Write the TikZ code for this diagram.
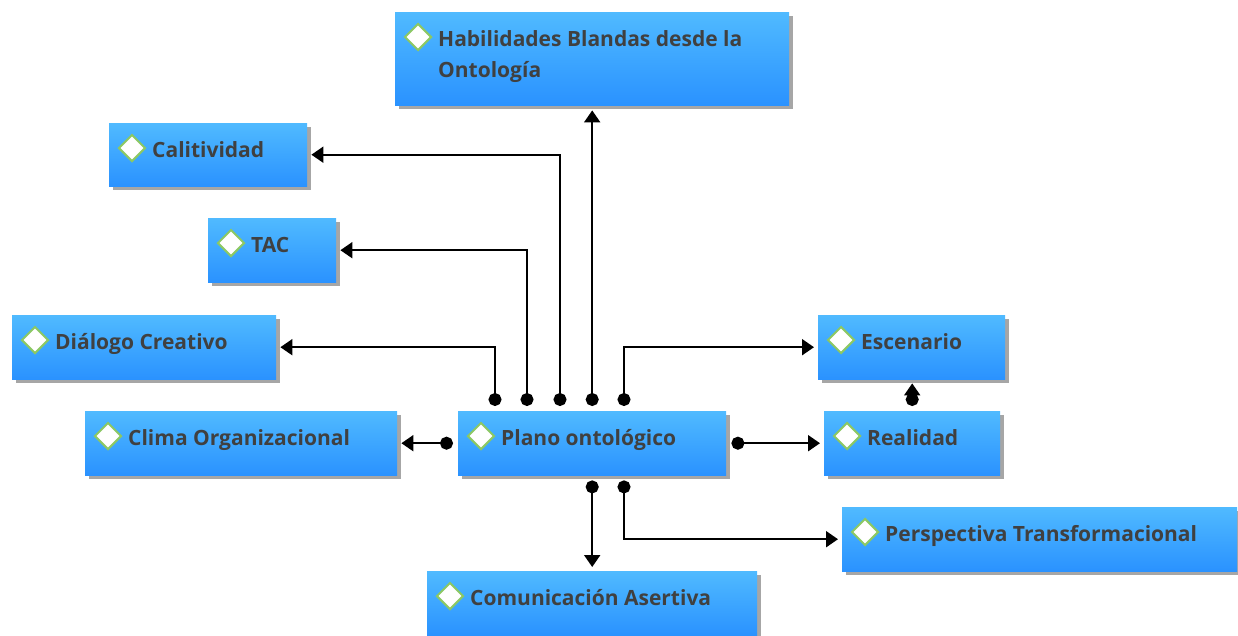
\documentclass[tikz,border=0pt]{standalone}
\usepackage{fontspec}
\setmainfont{Open Sans}
\usetikzlibrary{arrows.meta,shapes.geometric,shadows,calc}
\definecolor{boxtop}{RGB}{80,186,255}
\definecolor{boxbot}{RGB}{42,146,255}
\definecolor{txt}{RGB}{64,64,64}
\definecolor{dgreen}{RGB}{140,200,100}
\tikzset{
 card/.style={rectangle, draw=none, top color=boxtop, bottom color=boxbot, inner sep=0pt, anchor=north west,
   drop shadow={shadow xshift=4pt, shadow yshift=-4pt, fill=black, opacity=0.35}},
 gem/.style={diamond, draw=dgreen, line width=2pt, fill=white, minimum width=27pt, minimum height=27pt, inner sep=0pt},
 lbl/.style={anchor=base west, inner sep=0pt, font=\bfseries\fontsize{21}{30}\selectfont, text=txt},
 conn/.style={line width=2pt, {Circle[length=13pt,width=13pt]}-{Triangle[length=12pt,width=16pt]}},
}
\newcommand{\cardnode}[6]{%
 \node[card, minimum width=#4pt, minimum height=#5pt] (#1) at (#2,#3) {};
 \node[gem] (#1-gem) at ($(#1.north west)+(23,25)$) {};
 \node[lbl] (#1-txt) at ($(#1.north west)+(43,34)$) {#6};
}
\begin{document}
\begin{tikzpicture}[x=1pt,y=-1pt]
\useasboundingbox (0,0) rectangle (1238,635);
\cardnode{hab}{395}{12}{394}{93}{Habilidades Blandas desde la}
\node[lbl] (hab-txt2) at ($(hab.north west)+(43,65)$) {Ontología};
\cardnode{cal}{109}{123}{198}{63}{Calitividad}
\cardnode{tac}{208}{218}{128}{64}{TAC}
\cardnode{dia}{12}{315}{264}{64}{Diálogo Creativo}
\cardnode{cli}{85}{411}{312}{64}{Clima Organizacional}
\cardnode{pla}{458}{411}{268}{64}{Plano ontológico}
\cardnode{esc}{818}{315}{187}{64}{Escenario}
\cardnode{rea}{824}{411}{176}{64}{Realidad}
\cardnode{per}{842}{507}{395}{64}{Perspectiva Transformacional}
\cardnode{com}{427}{571}{330}{64}{Comunicación Asertiva}

\draw[conn] ($(pla.north west)+(37,-5)$) |- ($(dia.east)+(4,0)$);
\draw[conn] ($(pla.north west)+(69,-5)$) |- ($(tac.east)+(4,0)$);
\draw[conn] ($(pla.north west)+(102,-5)$) |- ($(cal.east)+(4,0)$);
\draw[conn] ($(pla.north)+(0,-5)$) -- ($(hab.south)+(0,5)$);
\draw[conn] ($(pla.north west)+(166,-5)$) |- ($(esc.west)+(-4,0)$);
\draw[conn] ($(pla.west)+(-5,0)$) -- ($(cli.east)+(4,0)$);
\draw[conn] ($(pla.east)+(5,0)$) -- ($(rea.west)+(-4,0)$);
\draw[conn] ($(pla.south)+(0,5)$) -- ($(com.north)+(0,-4)$);
\draw[conn] ($(pla.south west)+(166,5)$) |- ($(per.west)+(-4,0)$);
\draw[conn] ($(rea.north)+(0,-5)$) -- ($(rea.north |- esc.south)+(0,4)$);
\end{tikzpicture}
\end{document}
